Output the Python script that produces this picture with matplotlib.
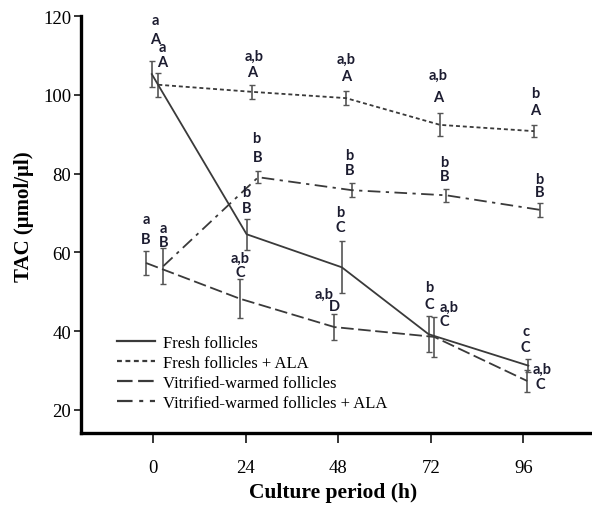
import matplotlib
matplotlib.use("Agg")
import matplotlib.pyplot as plt
from matplotlib.lines import Line2D

# ---------------- data ----------------
ticks_h = [0, 24, 48, 72, 96]

fresh_x = [-0.4, 24.2, 48.9, 71.4, 97.3]
fresh_y = [105.3, 64.6, 56.2, 39.2, 31.2]
fresh_err = [3.3, 4.0, 6.6, 4.5, 1.7]

fresh_ala_x = [1.3, 25.6, 50.0, 74.4, 98.8]
fresh_ala_y = [102.6, 100.8, 99.2, 92.4, 90.8]
fresh_ala_err = [3.0, 1.7, 1.7, 2.9, 1.6]

vit_x = [-1.9, 22.5, 47.0, 72.9, 97.0]
vit_y = [57.3, 48.2, 41.0, 38.5, 27.3]
vit_err = [3.0, 5.0, 3.4, 5.0, 2.9]

vit_ala_x = [2.6, 27.2, 51.5, 76.0, 100.3]
vit_ala_y = [56.5, 79.1, 75.8, 74.5, 70.8]
vit_ala_err = [4.5, 1.6, 1.8, 1.6, 1.7]

series_names = ["Fresh follicles", "Fresh follicles + ALA",
                "Vitrified-warmed follicles", "Vitrified-warmed follicles + ALA"]

# significance letters: (x, y, text)
letters = [
    # Fresh follicles
    (0.6, 119.1, "a"), (0.4, 114.2, "A"),
    (24.2, 75.3, "b"), (24.2, 71.2, "B"),
    (48.5, 70.3, "b"), (48.5, 66.4, "C"),
    (71.5, 51.1, "b"), (71.5, 46.9, "C"),
    (96.6, 40.1, "c"), (96.6, 36.0, "C"),
    # Fresh follicles + ALA
    (2.4, 112.1, "a"), (2.4, 108.3, "A"),
    (26.2, 110.0, "a,b"), (25.7, 105.9, "A"),
    (50.0, 109.3, "a,b"), (50.0, 104.7, "A"),
    (74.0, 105.1, "a,b"), (74.0, 99.4, "A"),
    (99.1, 100.4, "b"), (99.1, 96.2, "A"),
    # Vitrified-warmed follicles
    (-1.9, 68.5, "a"), (-1.9, 63.5, "B"),
    (22.5, 58.7, "a,b"), (22.5, 54.9, "C"),
    (44.3, 49.4, "a,b"), (46.9, 46.4, "D"),
    (76.8, 46.2, "a,b"), (75.5, 42.6, "C"),
    (100.9, 30.3, "a,b"), (100.3, 26.5, "C"),
    # Vitrified-warmed follicles + ALA
    (2.6, 66.2, "a"), (2.6, 62.7, "B"),
    (26.8, 89.0, "b"), (27.0, 84.2, "B"),
    (50.9, 84.7, "b"), (50.9, 81.0, "B"),
    (75.5, 82.9, "b"), (75.5, 79.5, "B"),
    (100.2, 78.6, "b"), (100.2, 75.3, "B"),
]

# ---------------- styling ----------------
serif = ["Liberation Serif", "DejaVu Serif"]
line_col = "#3a3a3a"
err_col = "#555555"
styles = [
    dict(linestyle="-"),
    dict(linestyle=(0, (2.2, 1.6))),
    dict(linestyle=(0, (7, 2.5))),
    dict(linestyle=(0, (7, 3, 1.8, 3))),
]

fig = plt.figure(figsize=(5.92, 5.06), dpi=100)
ax = fig.add_axes([81 / 592, 1 - 434 / 506, 1 - 81 / 592, (434 - 17.3) / 506])

data = [(fresh_x, fresh_y, fresh_err), (fresh_ala_x, fresh_ala_y, fresh_ala_err),
        (vit_x, vit_y, vit_err), (vit_ala_x, vit_ala_y, vit_ala_err)]

handles = []
for (xs, ys, es), st, name in zip(data, styles, series_names):
    ax.errorbar(xs, ys, yerr=es, fmt="none", ecolor=err_col, elinewidth=1.2,
                capsize=2.3, capthick=1.0, zorder=2)
    ax.plot(xs, ys, color=line_col, linewidth=1.3, zorder=3, **st)
    handles.append(Line2D([], [], color=line_col, linewidth=1.6, **st))

for x, y, t in letters:
    ax.text(x, y, t, ha="center", va="center", fontsize=10.5,
            fontweight="bold", family=["Lato", "DejaVu Sans"], color="#1c1c30",
            zorder=4)

ax.set_xlim(-18.76, 113.8)
ax.set_ylim(14.08, 120)
ax.set_xticks(ticks_h)
ax.set_yticks([20, 40, 60, 80, 100, 120])

for s in ["top", "right"]:
    ax.spines[s].set_visible(False)
for s in ["left", "bottom"]:
    ax.spines[s].set_linewidth(2.4)
    ax.spines[s].set_color("black")

ax.tick_params(axis="both", direction="out", length=5, width=1.1, colors="black",
               labelsize=13.5, pad=2)
ax.tick_params(axis="x", length=7, pad=12)
for lab in ax.get_xticklabels() + ax.get_yticklabels():
    lab.set_family(serif)

ax.set_xlabel("Culture period (h)", fontsize=15.5, fontweight="bold", family=serif)
ax.xaxis.label.set_va("center")
ax.xaxis.set_label_coords((333 - 81) / (592 - 81), -(493 - 434) / (434 - 17.3))
ax.set_ylabel("TAC (μmol/μl)", fontsize=15, fontweight="bold", family=serif)
ax.yaxis.label.set_va("center")
ax.yaxis.set_label_coords((24 - 81) / (592 - 81), (434 - 217) / (434 - 17.3))

leg = ax.legend(handles, series_names, loc="upper left",
                bbox_to_anchor=((117 - 81) / (592 - 81), (434 - 336) / (434 - 17.3)),
                frameon=False, prop={"family": serif, "size": 12},
                handlelength=2.3, handletextpad=0.45, labelspacing=0.24,
                borderpad=0, borderaxespad=0)

fig.savefig("out.png", dpi=100)
